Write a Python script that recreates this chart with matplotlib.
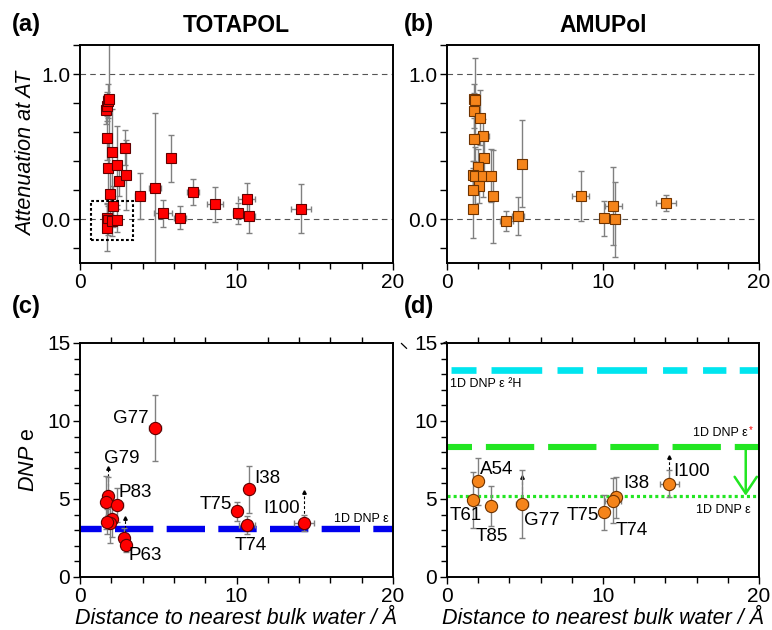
import numpy as np
import matplotlib
matplotlib.use("Agg")
import matplotlib.pyplot as plt
from matplotlib.lines import Line2D
from matplotlib.patches import Rectangle
from matplotlib.ticker import MultipleLocator, FixedLocator

plt.rcParams['font.family'] = ['Liberation Sans', 'DejaVu Sans']
plt.rcParams['mathtext.fontset'] = 'custom'
plt.rcParams['mathtext.rm'] = 'Liberation Sans'
plt.rcParams['mathtext.it'] = 'Liberation Sans:italic'
plt.rcParams['lines.scale_dashes'] = False

# (a) TOTAPOL attenuation
tot_x = [1.66, 1.74, 1.81, 1.85, 1.70, 1.79, 2.04, 2.85, 2.34, 2.49, 2.94, 1.91, 2.09,
         1.70, 1.80, 1.70, 2.02, 2.34, 3.83, 4.77, 5.30, 5.81, 6.38, 7.23, 8.62, 10.10,
         10.64, 10.79, 14.10]
tot_y = [0.753, 0.78, 0.815, 0.826, 0.56, 0.354, 0.463, 0.493, 0.372, 0.263, 0.304, 0.174,
         0.091, 0.011, -0.007, -0.057, -0.011, -0.007, 0.162, 0.215, 0.041, 0.42, 0.011,
         0.19, 0.103, 0.041, 0.142, 0.023, 0.073]
tot_ye = [0.10, 0.10, 0.12, 0.45, 0.15, 0.20, 0.30, 0.12, 0.27, 0.10, 0.24, 0.20, 0.14,
          0.10, 0.10, 0.16, 0.10, 0.08, 0.16, 0.52, 0.09, 0.16, 0.078, 0.09, 0.12, 0.07,
          0.11, 0.12, 0.17]
tot_xe = [0.10, 0.10, 0.10, 0.10, 0.10, 0.15, 0.15, 0.20, 0.20, 0.30, 0.20, 0.15, 0.15,
          0.15, 0.20, 0.10, 0.20, 0.25, 0.30, 0.38, 0.60, 0.25, 0.40, 0.38, 0.50, 0.30,
          0.55, 0.40, 0.64]

# (b) AMUPol attenuation
amu_x = [1.71, 1.79, 1.71, 2.13, 2.32, 1.73, 2.35, 4.82, 1.98, 1.66, 1.77, 2.30, 2.79,
         2.03, 1.64, 2.92, 1.68, 3.80, 4.56, 8.57, 10.09, 10.66, 10.79, 14.05]
amu_y = [0.829, 0.822, 0.747, 0.699, 0.571, 0.55, 0.42, 0.384, 0.361, 0.304, 0.299, 0.301,
         0.301, 0.233, 0.201, 0.16, 0.073, -0.009, 0.021, 0.16, 0.009, 0.091, 0.0, 0.112]
amu_ye = [0.10, 0.29, 0.12, 0.19, 0.12, 0.15, 0.15, 0.30, 0.12, 0.10, 0.20, 0.15, 0.18,
          0.12, 0.15, 0.32, 0.20, 0.07, 0.13, 0.17, 0.12, 0.27, 0.26, 0.055]
amu_xe = [0.10, 0.10, 0.10, 0.15, 0.40, 0.10, 0.15, 0.15, 0.15, 0.10, 0.10, 0.15, 0.15,
          0.15, 0.10, 0.10, 0.10, 0.40, 0.38, 0.53, 0.30, 0.53, 0.30, 0.64]

# dotted box around the near-water cluster in (a)
box_x = (0.68, 3.40)
box_y = (-0.14, 0.13)

# (c) TOTAPOL DNP enhancement
c_x = [4.79, 1.81, 1.66, 2.34, 2.06, 1.91, 1.70, 2.83, 2.94, 10.06, 10.77, 10.66, 14.32]
c_y = [9.54, 5.19, 4.78, 4.63, 3.75, 3.47, 3.54, 2.53, 2.08, 4.22, 5.61, 3.34, 3.47]
c_ye = [2.10, 1.20, 1.70, 1.10, 1.20, 1.30, 0.80, 0.60, 0.50, 0.60, 1.50, 0.60, 0.50]
c_xe = [0.38, 0.15, 0.15, 0.40, 0.15, 0.15, 0.15, 0.15, 0.15, 0.30, 0.25, 0.50, 0.65]
c_labels = ["G77", "G79", "P83", "P63", "T75", "I38", "T74", "I100"]
c_lab_x = [3.23, 2.66, 3.51, 4.19, 8.68, 12.00, 10.90, 12.87]
c_lab_y = [10.18, 7.60, 5.40, 1.39, 4.67, 6.32, 2.04, 4.39]
c_arrow_x = [1.81, 1.91, 2.87, 14.32]
c_arrow_y0 = [5.19, 3.47, 2.53, 3.47]
c_arrow_y1 = [6.96, 5.13, 3.81, 5.42]
c_eps = 3.06

# (d) AMUPol DNP enhancement
d_x = [1.64, 1.98, 2.81, 4.82, 10.09, 10.81, 10.64, 14.26]
d_y = [4.93, 6.13, 4.56, 4.67, 4.14, 5.10, 4.89, 5.98]
d_ye = [1.82, 1.50, 1.30, 2.20, 1.10, 1.30, 1.45, 0.85]
d_xe = [0.10, 0.15, 0.15, 0.40, 0.30, 0.30, 0.50, 0.60]
d_labels = ["T61", "A54", "T85", "G77", "T75", "I38", "T74", "I100"]
d_lab_x = [1.17, 3.16, 2.88, 6.08, 8.68, 12.15, 11.83, 15.67]
d_lab_y = [3.96, 6.86, 2.57, 3.64, 3.96, 6.00, 3.00, 6.75]
d_arrow_x = [4.82, 14.26]
d_arrow_y0 = [4.67, 5.98]
d_arrow_y1 = [6.43, 7.71]
d_eps_2h = 13.29
d_eps_star = 8.36
d_eps = 5.21

RED, RED_EDGE = '#ff0000', '#600000'
ORANGE, ORANGE_EDGE = '#f5841a', '#6e3300'
ERR = '#808080'
W, H = 772, 630

fig = plt.figure(figsize=(7.72, 6.3), dpi=100)


def px_axes(left, top, right, bottom):
    return fig.add_axes([left / W, 1 - bottom / H, (right - left) / W, (bottom - top) / H])


ax_a = px_axes(80, 45, 393, 263)
ax_b = px_axes(447, 45, 759, 263)
ax_c = px_axes(80, 343, 393, 577)
ax_d = px_axes(447, 343, 759, 577)


def style(ax):
    for s in ax.spines.values():
        s.set_linewidth(1.4)
    ax.set_xlim(0, 20)
    ax.xaxis.set_major_locator(FixedLocator([0, 10, 20]))
    ax.xaxis.set_minor_locator(MultipleLocator(2))
    ax.tick_params(which='both', direction='out', labelsize=15, width=1, pad=2)
    ax.tick_params(which='major', length=5)
    ax.tick_params(which='minor', length=4)


def draw_points(ax, x, y, xe, ye, marker, face, edge, ms):
    ax.errorbar(x, y, xerr=xe, yerr=ye, fmt='none', ecolor=ERR, elinewidth=1,
                capsize=2.5, capthick=1, zorder=2)
    ax.plot(x, y, ls='none', marker=marker, ms=ms, mfc=face, mec=edge, mew=0.8, zorder=3)


for ax in (ax_a, ax_b):
    style(ax)
    ax.set_ylim(-0.3, 1.2)
    ax.yaxis.set_major_locator(FixedLocator([0, 1]))
    ax.yaxis.set_major_formatter(plt.FuncFormatter(lambda v, p: f"{v:.1f}"))
    ax.yaxis.set_minor_locator(MultipleLocator(0.2))
    ax.tick_params(axis='y', which='minor', length=5)
    for v in (0, 1):
        ax.axhline(v, color='#555555', lw=0.8, ls=(0, (4, 3)), zorder=1)

draw_points(ax_a, tot_x, tot_y, tot_xe, tot_ye, 's', RED, RED_EDGE, 7.8)
draw_points(ax_b, amu_x, amu_y, amu_xe, amu_ye, 's', ORANGE, ORANGE_EDGE, 7.8)
ax_a.add_patch(Rectangle((box_x[0], box_y[0]), box_x[1] - box_x[0], box_y[1] - box_y[0],
                         fill=False, lw=1.5, ls=(0, (2, 1.6)), ec='black', zorder=4))
ax_a.set_ylabel("Attenuation at AT", fontsize=15.5, style='italic', labelpad=3)
ax_a.set_title("TOTAPOL", fontsize=16.5, fontweight='bold', pad=9)
ax_b.set_title("AMUPol", fontsize=16.5, fontweight='bold', pad=9)

for ax in (ax_c, ax_d):
    style(ax)
    ax.set_ylim(0, 15)
    ax.yaxis.set_major_locator(MultipleLocator(5))
    ax.yaxis.set_minor_locator(MultipleLocator(1))
    ax.tick_params(which='minor', top=True)
    ax.set_xlabel("Distance to nearest bulk water / Å", fontsize=15.5, style='italic',
                  labelpad=2)

# (c)
ax_c.axhline(c_eps, color='#0000ee', lw=4.6, ls=(12, (27.6, 9.6)), zorder=1)
ax_c.text(16.2, c_eps + 0.65, "1D DNP ε", fontsize=9, va='center', ha='left')
ax_c.vlines(c_arrow_x, c_arrow_y0, c_arrow_y1, colors='black', lw=0.8,
            linestyles=[(0, (2, 1.5))], zorder=2)
ax_c.plot(c_arrow_x, c_arrow_y1, ls='none', marker='^', ms=2.5, color='black', zorder=2)
draw_points(ax_c, c_x, c_y, c_xe, c_ye, 'o', RED, RED_EDGE, 8.8)
for t, lx, ly in zip(c_labels, c_lab_x, c_lab_y):
    ax_c.text(lx, ly, t, fontsize=13.5, ha='center', va='center')
ax_c.set_ylabel(r"$\mathit{DNP}$ e", fontsize=15.5, labelpad=6)

# (d)
ax_d.axhline(d_eps_2h, color='#00e5ef', lw=4.8, zorder=1,
             ls=(231, (16.8, 9.6, 18, 10.8, 36.5, 11, 18.5, 10, 36, 11.5, 17.5, 11.3)))
ax_d.axhline(d_eps_star, color='#22e622', lw=4.4, ls=(16.8, (34.8, 10)), zorder=1)
ax_d.axhline(d_eps, color='#22e622', lw=2.3, ls=(0, (2.2, 2.2)), zorder=1)
ax_d.annotate("", xy=(19.15, d_eps), xytext=(19.15, d_eps_star - 0.2),
              arrowprops=dict(arrowstyle='->, head_length=0.6, head_width=0.4',
                              color='#22e622', lw=1.8, mutation_scale=20,
                              shrinkA=0, shrinkB=0))
ax_d.text(0.21, d_eps_2h - 0.9, "1D DNP ε ²H", fontsize=9, ha='left', va='center')
ax_d.text(19.3, d_eps_star + 0.87, "1D DNP ε", fontsize=9, ha='right', va='center')
ax_d.text(19.32, d_eps_star + 1.05, "*", fontsize=7, color='red', ha='left', va='center')
ax_d.text(19.5, d_eps - 0.92, "1D DNP ε", fontsize=9, ha='right', va='center')
ax_d.vlines(d_arrow_x, d_arrow_y0, d_arrow_y1, colors='black', lw=0.8,
            linestyles=[(0, (2, 1.5))], zorder=2)
ax_d.plot(d_arrow_x, d_arrow_y1, ls='none', marker='^', ms=2.5, color='black', zorder=2)
draw_points(ax_d, d_x, d_y, d_xe, d_ye, 'o', ORANGE, ORANGE_EDGE, 8.8)
for t, lx, ly in zip(d_labels, d_lab_x, d_lab_y):
    ax_d.text(lx, ly, t, fontsize=13.5, ha='center', va='center')

# little break strokes beside the "15" of panel (d)
for (x0, y0), (x1, y1) in [((401.5, 343.5), (406.5, 348.3)), ((441.7, 344), (446.5, 341.7))]:
    fig.add_artist(Line2D([x0 / W, x1 / W], [1 - y0 / H, 1 - y1 / H], color='black', lw=0.9))

for lab, x, y in [("(a)", 12, 25), ("(b)", 404, 25), ("(c)", 12, 307), ("(d)", 404, 307)]:
    fig.text(x / W, 1 - y / H, lab, fontsize=17, fontweight='bold', ha='left', va='center')

fig.savefig("out.png", dpi=100)
